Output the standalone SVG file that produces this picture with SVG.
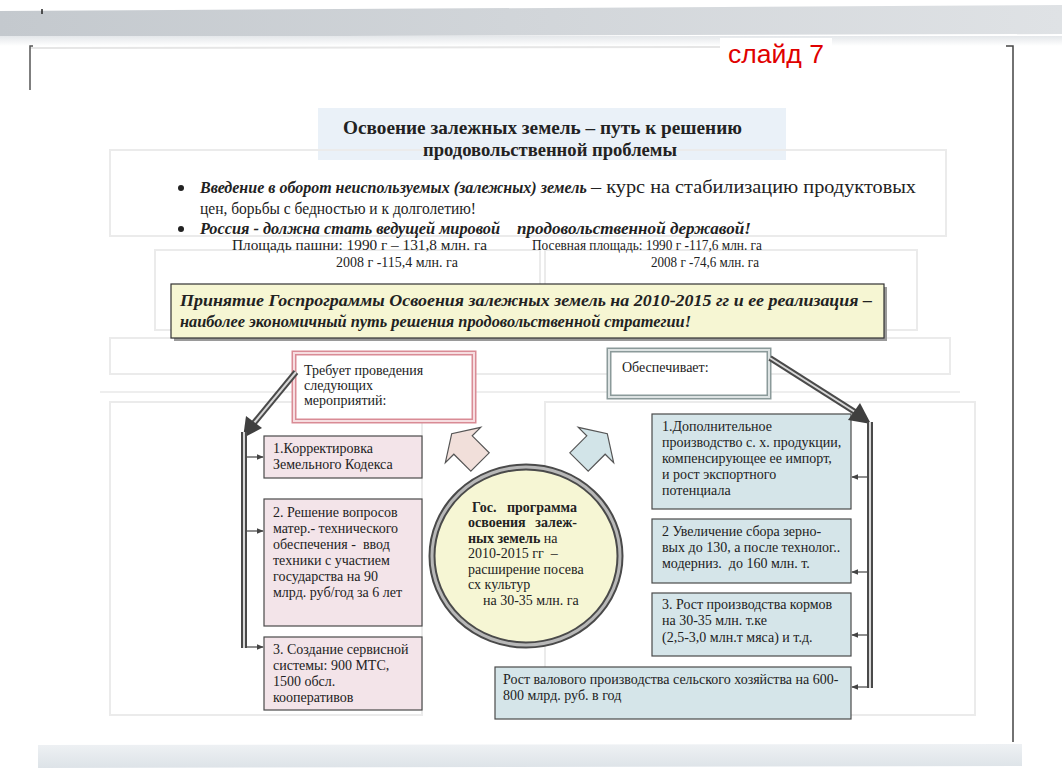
<svg xmlns="http://www.w3.org/2000/svg" width="1062" height="777" viewBox="0 0 1062 777">
<defs>
  <linearGradient id="topband" x1="0" y1="0" x2="1" y2="0">
    <stop offset="0" stop-color="#c4c9ce"/>
    <stop offset="1" stop-color="#dfe2e5"/>
  </linearGradient>
  <linearGradient id="topfade" x1="0" y1="0" x2="0" y2="1">
    <stop offset="0" stop-color="#e4e7ea"/>
    <stop offset="1" stop-color="#ffffff"/>
  </linearGradient>
  <linearGradient id="botband" x1="0" y1="0" x2="0" y2="1">
    <stop offset="0" stop-color="#eef1f4"/>
    <stop offset="1" stop-color="#dde3e8"/>
  </linearGradient>
  <marker id="sm" viewBox="0 0 10 10" refX="9" refY="5" markerWidth="6" markerHeight="6" orient="auto">
    <path d="M0,1 L10,5 L0,9 Z" fill="#444"/>
  </marker>
</defs>
<style>
  .t{font-family:"Liberation Serif","Times New Roman",serif;fill:#222;}
  .s14{font-size:14px;}
  .s13{font-size:13px;}
  .b{font-weight:bold;}
  .bi{font-weight:bold;font-style:italic;}
  .pink{fill:#f3e4e9;stroke:#4a4a4a;stroke-width:1.2;}
  .blue{fill:#d5e5e9;stroke:#4a4a4a;stroke-width:1.2;}
  .shadow{fill:#9a9a9a;}
  .ghost{fill:none;stroke:#ebebeb;stroke-width:2;}
  .dl-out{fill:none;stroke:#4a4a4a;stroke-width:6;}
  .dl-in{fill:none;stroke:#d8d8d8;stroke-width:2;}
  .small{stroke:#444;stroke-width:1.2;fill:none;marker-end:url(#sm);}
  .head{fill:#3f3f3f;}
</style>

<!-- page -->
<rect x="0" y="0" width="1062" height="777" fill="#ffffff"/>
<polygon points="0,11 1062,5 1062,34 0,37" fill="url(#topband)"/>
<rect x="0" y="36" width="1062" height="10" fill="url(#topfade)"/>
<line x1="42" y1="9" x2="42" y2="14" stroke="#222" stroke-width="1.5"/>
<line x1="30" y1="48" x2="720" y2="47" stroke="#e6e6e6" stroke-width="2"/>
<path d="M33,46 L30,46 L30,90" fill="none" stroke="#555" stroke-width="1.5"/>
<path d="M1006,46 L1013,46 L1013,742" fill="none" stroke="#444" stroke-width="1.5"/>
<polygon points="38,745 1022,744 1022,766 38,768" fill="url(#botband)"/>

<!-- ghost show-through -->
<g id="ghost">
  <rect x="318" y="108" width="468" height="52" fill="#eaf1f8"/>
  <rect x="110" y="150" width="836" height="86" class="ghost"/>
  <rect x="155" y="250" width="385" height="80" class="ghost"/>
  <rect x="545" y="250" width="372" height="80" class="ghost"/>
  <rect x="110" y="338" width="840" height="36" class="ghost"/>
  <line x1="100" y1="392" x2="960" y2="392" stroke="#eeeeee" stroke-width="2"/>
  <rect x="110" y="402" width="312" height="313" class="ghost"/>
  <rect x="545" y="402" width="430" height="313" class="ghost"/>
</g>

<!-- slide label -->
<g id="slide-label">
  <rect x="720" y="38" width="112" height="30" fill="#ffffff"/>
  <text x="728" y="63" font-family="Liberation Sans, Arial, sans-serif" font-size="25" fill="#e00000" textLength="96" lengthAdjust="spacingAndGlyphs">слайд 7</text>
</g>

<!-- title -->
<g id="title">
  <text class="t b" font-size="19" x="343" y="134" textLength="399" lengthAdjust="spacingAndGlyphs">Освоение залежных земель – путь к решению</text>
  <text class="t b" font-size="19" x="423" y="156" textLength="254" lengthAdjust="spacingAndGlyphs">продовольственной проблемы</text>
</g>

<!-- bullets -->
<g id="bullets">
  <circle cx="181" cy="188" r="3" fill="#222"/>
  <text class="t" x="200" y="193"><tspan class="bi" font-size="16">Введение в оборот неиспользуемых (залежных) земель</tspan><tspan x="591" font-size="18" textLength="325" lengthAdjust="spacingAndGlyphs">– курс на стабилизацию продуктовых</tspan></text>
  <text class="t" font-size="16" x="200" y="214" textLength="276" lengthAdjust="spacingAndGlyphs">цен, борьбы с бедностью и к долголетию!</text>
  <circle cx="181" cy="229" r="3" fill="#222"/>
  <text class="t bi" font-size="17" x="200" y="234"><tspan textLength="300" lengthAdjust="spacingAndGlyphs">Россия - должна стать ведущей мировой</tspan><tspan x="517" textLength="234" lengthAdjust="spacingAndGlyphs">продовольственной державой!</tspan></text>
  <text class="t" font-size="14" x="232" y="250" textLength="255" lengthAdjust="spacingAndGlyphs">Площадь пашни: 1990 г – 131,8 млн. га</text>
  <text class="t" font-size="14" x="336" y="267" textLength="122" lengthAdjust="spacingAndGlyphs">2008 г -115,4 млн. га</text>
  <text class="t" font-size="14" x="532" y="250" textLength="230" lengthAdjust="spacingAndGlyphs">Посевная площадь: 1990 г -117,6 млн. га</text>
  <text class="t" font-size="14" x="651" y="267" textLength="108" lengthAdjust="spacingAndGlyphs">2008 г -74,6 млн. га</text>
</g>

<!-- yellow statement -->
<g id="statement">
  <rect x="174" y="287" width="713" height="54" class="shadow"/>
  <rect x="171" y="284" width="713" height="54" fill="#f6f6d3" stroke="#333" stroke-width="1.2"/>
  <text class="t bi" font-size="17" x="180" y="306" textLength="692" lengthAdjust="spacingAndGlyphs">Принятие Госпрограммы  Освоения залежных земель на 2010-2015 гг и ее реализация –</text>
  <text class="t bi" font-size="17" x="180" y="327" textLength="511" lengthAdjust="spacingAndGlyphs">наиболее экономичный путь решения продовольственной стратегии!</text>
</g>

<!-- requires box -->
<g id="requires">
  <rect x="294" y="353" width="180" height="68" fill="#ffffff" stroke="#d98b95" stroke-width="5"/>
  <rect x="294" y="353" width="180" height="68" fill="none" stroke="#f6dde0" stroke-width="2"/>
  <text class="t s14" x="304" y="375">Требует проведения</text>
  <text class="t s14" x="304" y="390">следующих</text>
  <text class="t s14" x="304" y="405">мероприятий:</text>
</g>

<!-- provides box -->
<g id="provides">
  <rect x="609" y="350" width="160" height="47" fill="#ffffff" stroke="#8b9a9a" stroke-width="5"/>
  <rect x="609" y="350" width="160" height="47" fill="none" stroke="#dde3e3" stroke-width="2"/>
  <text class="t s14" x="622" y="372">Обеспечивает:</text>
</g>

<!-- left measures -->
<g id="measure-1">
  <rect x="264" y="436" width="158" height="42" class="pink"/>
  <text class="t s14" x="273" y="453">1.Корректировка</text>
  <text class="t s14" x="273" y="469">Земельного Кодекса</text>
</g>
<g id="measure-2">
  <rect x="264" y="499" width="158" height="127" class="pink"/>
  <text class="t s14" x="273" y="517">2. Решение вопросов</text>
  <text class="t s14" x="273" y="533">матер.- технического</text>
  <text class="t s14" x="273" y="549" xml:space="preserve">обеспечения -  ввод</text>
  <text class="t s14" x="273" y="565">техники с участием</text>
  <text class="t s14" x="273" y="581">государства на 90</text>
  <text class="t s14" x="273" y="597">млрд. руб/год за 6 лет</text>
</g>
<g id="measure-3">
  <rect x="264" y="637" width="158" height="73" class="pink"/>
  <text class="t s14" x="273" y="654">3. Создание сервисной</text>
  <text class="t s14" x="273" y="670">системы: 900 МТС,</text>
  <text class="t s14" x="273" y="686">1500 обсл.</text>
  <text class="t s14" x="273" y="702">кооперативов</text>
</g>

<!-- center program -->
<g id="program">
  <ellipse cx="526" cy="556" rx="94" ry="89" fill="#f6f6d4" stroke="#4a4a4a" stroke-width="7"/>
  <ellipse cx="526" cy="556" rx="94" ry="89" fill="none" stroke="#b8b8b8" stroke-width="3"/>
  <text class="t s14 b" x="472" y="512">Гос.</text>
  <text class="t s14 b" x="577" y="512" text-anchor="end">программа</text>
  <text class="t s14 b" x="468" y="527">освоения</text>
  <text class="t s14 b" x="577" y="527" text-anchor="end">залеж-</text>
  <text class="t s14" x="468" y="543"><tspan class="b">ных земель</tspan> на</text>
  <text class="t s14" x="468" y="558" xml:space="preserve">2010-2015 гг  –</text>
  <text class="t s14" x="468" y="574">расширение посева</text>
  <text class="t s14" x="468" y="589">сх культур</text>
  <text class="t s14" x="483" y="605">на 30-35 млн. га</text>
</g>

<!-- block arrows -->
<g id="arrow-up-left">
  <path transform="translate(480,462) rotate(-135)" d="M0,-13 L24,-13 L24,-25 L40,0 L24,25 L24,13 L0,13 Z" fill="#f1dfda" stroke="#555" stroke-width="1.2"/>
</g>
<g id="arrow-up-right">
  <path transform="translate(579,462) rotate(-45)" d="M0,-13 L24,-13 L24,-25 L40,0 L24,25 L24,13 L0,13 Z" fill="#d2e4e8" stroke="#555" stroke-width="1.2"/>
</g>

<!-- right results -->
<g id="result-1">
  <rect x="652" y="414" width="199" height="95" class="blue"/>
  <text class="t s14" x="662" y="431">1.Дополнительное</text>
  <text class="t s14" x="662" y="447">производство с. х. продукции,</text>
  <text class="t s14" x="662" y="463">компенсирующее ее импорт,</text>
  <text class="t s14" x="662" y="479">и рост экспортного</text>
  <text class="t s14" x="662" y="495">потенциала</text>
</g>
<g id="result-2">
  <rect x="652" y="519" width="199" height="64" class="blue"/>
  <text class="t s14" x="662" y="536">2 Увеличение сбора зерно-</text>
  <text class="t s14" x="662" y="552">вых до 130, а после технолог..</text>
  <text class="t s14" x="662" y="568" xml:space="preserve">модерниз.  до 160 млн. т.</text>
</g>
<g id="result-3">
  <rect x="652" y="593" width="199" height="63" class="blue"/>
  <text class="t s14" x="662" y="609">3. Рост производства кормов</text>
  <text class="t s14" x="662" y="625">на 30-35 млн. т.ке</text>
  <text class="t s14" x="662" y="642">(2,5-3,0 млн.т мяса) и т.д.</text>
</g>
<g id="result-4">
  <rect x="495" y="667" width="356" height="52" class="blue"/>
  <text class="t s14" x="503" y="684">Рост валового производства сельского хозяйства на 600-</text>
  <text class="t s14" x="503" y="700">800 млрд. руб. в год</text>
</g>

<!-- connectors -->
<g id="connectors">
  <path d="M296,372 L254,423" class="dl-out"/>
  <path d="M296,372 L254,423" class="dl-in"/>
  <polygon points="243,438 246,416 262,428" class="head"/>
  <path d="M244,432 L244,648" class="dl-out"/>
  <path d="M244,432 L244,648" class="dl-in"/>
  <path d="M247,457 L263,457" class="small"/>
  <path d="M247,531 L263,531" class="small"/>
  <path d="M247,647 L263,647" class="small"/>
  <path d="M770,358 L855,412" class="dl-out"/>
  <path d="M770,358 L855,412" class="dl-in"/>
  <polygon points="871,424 848,420 860,403" class="head"/>
  <path d="M870,422 L870,688" class="dl-out"/>
  <path d="M870,422 L870,688" class="dl-in"/>
  <path d="M867,477 L852,477" class="small"/>
  <path d="M867,572 L852,572" class="small"/>
  <path d="M867,635 L852,635" class="small"/>
  <path d="M867,687 L852,687" class="small"/>
</g>
</svg>
